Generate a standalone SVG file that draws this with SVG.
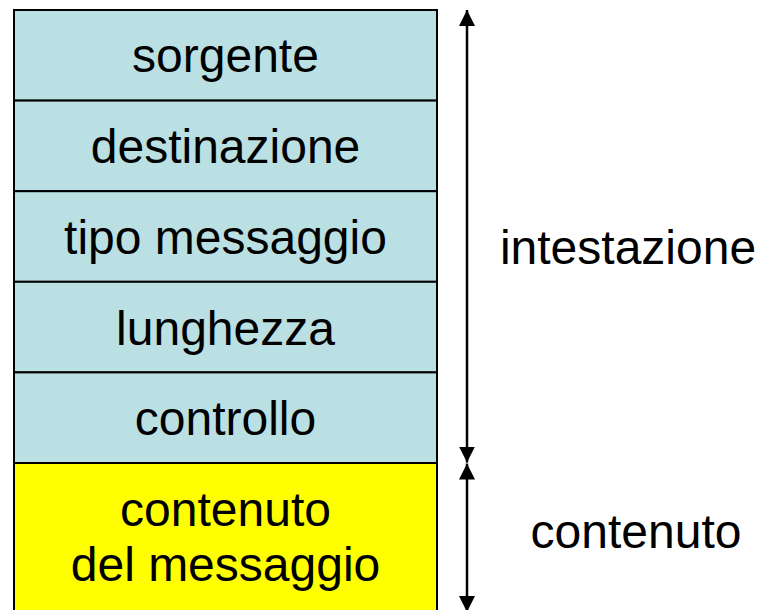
<svg xmlns="http://www.w3.org/2000/svg" width="760" height="610" viewBox="0 0 760 610">
<defs>
<style>
.hdr{fill:#BBE0E3;stroke:#000;stroke-width:2}
.body{fill:#FFFF00;stroke:#000;stroke-width:2}
.t{font-family:"Liberation Sans",Arial,sans-serif;font-size:48px;fill:#000;text-anchor:middle}
.arr{stroke:#000;stroke-width:2.5;fill:none}
</style>
<marker id="ah" viewBox="0 0 16 16" refX="16" refY="8" markerWidth="16" markerHeight="16" markerUnits="userSpaceOnUse" orient="auto-start-reverse">
<path d="M0,0 L16,8 L0,16 Z" fill="#000"/>
</marker>
</defs>
<g id="sorgente"><rect class="hdr" x="14" y="10" width="423" height="90.6"/><text class="t" x="225.5" y="72">sorgente</text></g>
<g id="destinazione"><rect class="hdr" x="14" y="100.6" width="423" height="90.6"/><text class="t" x="225.5" y="163">destinazione</text></g>
<g id="tipo"><rect class="hdr" x="14" y="191.2" width="423" height="90.6"/><text class="t" x="225.5" y="253.5">tipo messaggio</text></g>
<g id="lunghezza"><rect class="hdr" x="14" y="281.8" width="423" height="90.6"/><text class="t" x="225.5" y="344.5">lunghezza</text></g>
<g id="controllo"><rect class="hdr" x="14" y="372.4" width="423" height="90.6"/><text class="t" x="225.5" y="435">controllo</text></g>
<g id="contenuto-msg"><rect class="body" x="14" y="463" width="423" height="160"/><text class="t" x="225.5" y="526">contenuto</text><text class="t" x="225.5" y="581">del messaggio</text></g>
<g id="connectors">
<line class="arr" x1="467" y1="10" x2="467" y2="462.5" marker-start="url(#ah)" marker-end="url(#ah)"/>
<line class="arr" x1="467" y1="463.5" x2="467" y2="612" marker-start="url(#ah)" marker-end="url(#ah)"/>
</g>
<g id="label-intestazione"><text class="t" x="628" y="264">intestazione</text></g>
<g id="label-contenuto"><text class="t" x="636" y="548">contenuto</text></g>
</svg>
